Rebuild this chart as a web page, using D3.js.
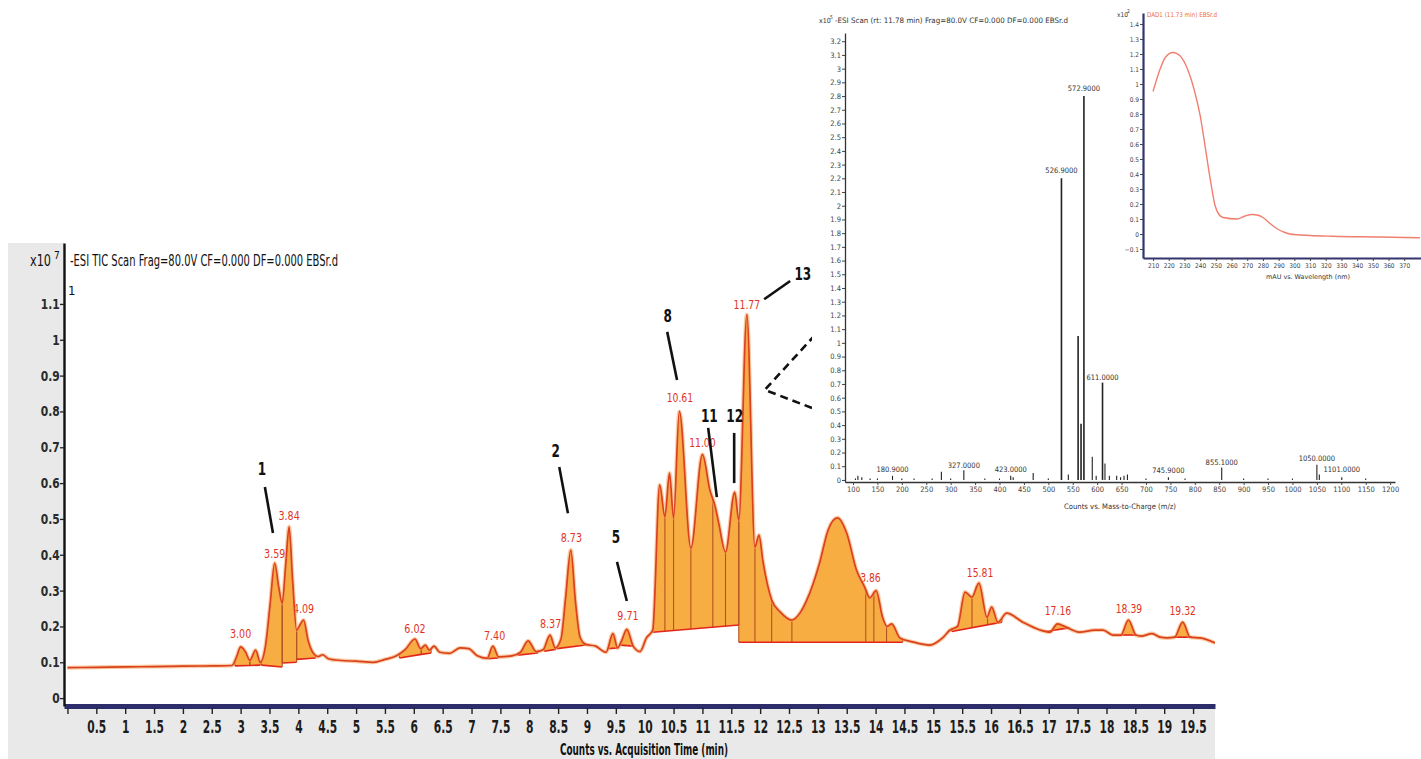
<!DOCTYPE html>
<html><head><meta charset="utf-8">
<script src="https://cdn.jsdelivr.net/npm/d3@7"></script>
<style>
body{margin:0;background:#fff}
svg{display:block}
</style>
</head><body>
<svg id="c" width="1421" height="759"></svg>
<script>
// ---------------- DATA ----------------
// Main TIC trace (time in min, counts x10^7)
const ticTime = [0.00,0.50,1.00,1.50,2.00,2.50,2.85,2.93,3.00,3.08,3.16,3.26,3.34,3.43,3.51,3.59,3.66,3.72,3.78,3.84,3.90,3.97,4.03,4.09,4.17,4.26,4.34,4.42,4.52,4.75,5.00,5.30,5.50,5.70,5.85,6.02,6.12,6.20,6.27,6.35,6.45,6.62,6.80,6.95,7.10,7.27,7.37,7.47,7.70,7.85,7.98,8.12,8.24,8.36,8.45,8.55,8.63,8.72,8.80,8.88,8.98,9.15,9.33,9.45,9.53,9.60,9.69,9.80,9.92,10.03,10.14,10.26,10.35,10.43,10.50,10.60,10.80,11.00,11.13,11.22,11.28,11.40,11.56,11.63,11.77,11.91,11.98,12.05,12.20,12.35,12.55,12.70,12.81,12.92,13.03,13.18,13.34,13.50,13.67,13.81,13.90,14.01,14.12,14.20,14.28,14.42,14.64,14.94,15.16,15.29,15.42,15.55,15.67,15.79,15.93,16.01,16.12,16.27,16.55,16.85,17.02,17.15,17.30,17.54,17.80,17.94,18.11,18.25,18.38,18.51,18.60,18.79,18.93,19.05,19.18,19.32,19.45,19.62,19.88];
const ticCounts = [0.085,0.086,0.087,0.088,0.089,0.090,0.091,0.115,0.143,0.130,0.106,0.134,0.100,0.145,0.260,0.377,0.310,0.265,0.370,0.478,0.330,0.190,0.205,0.218,0.160,0.125,0.116,0.121,0.110,0.105,0.103,0.100,0.108,0.118,0.135,0.165,0.138,0.148,0.134,0.145,0.128,0.125,0.140,0.138,0.118,0.111,0.145,0.115,0.118,0.128,0.160,0.130,0.135,0.176,0.140,0.165,0.280,0.413,0.270,0.170,0.150,0.145,0.128,0.180,0.140,0.160,0.192,0.145,0.130,0.168,0.190,0.595,0.506,0.628,0.503,0.800,0.419,0.680,0.580,0.535,0.490,0.408,0.575,0.497,1.070,0.422,0.455,0.380,0.274,0.240,0.218,0.240,0.274,0.320,0.377,0.470,0.503,0.460,0.357,0.310,0.280,0.300,0.226,0.200,0.207,0.168,0.157,0.148,0.168,0.190,0.200,0.296,0.282,0.321,0.226,0.254,0.212,0.237,0.212,0.190,0.184,0.207,0.198,0.184,0.190,0.190,0.176,0.176,0.218,0.176,0.173,0.180,0.170,0.168,0.170,0.212,0.170,0.168,0.154];

// Integrated peak regions
const regionStart     = [2.90,3.16,3.36,3.72,3.97,5.75,6.13,7.29,7.80,8.26,8.48,9.37,9.58,10.14,11.63,15.32,16.95,18.24,19.17];
const regionEnd       = [3.16,3.34,3.72,3.97,4.30,6.13,6.30,7.46,8.15,8.46,8.98,9.53,9.80,11.63,14.47,16.19,17.35,18.52,19.48];
const regionBaseStart = [0.090,0.091,0.092,0.098,0.108,0.112,0.122,0.110,0.120,0.131,0.138,0.138,0.148,0.184,0.156,0.186,0.186,0.176,0.170];
const regionBaseEnd   = [0.091,0.092,0.087,0.100,0.112,0.122,0.126,0.112,0.126,0.136,0.148,0.140,0.145,0.204,0.156,0.212,0.196,0.176,0.170];
const regionSplits    = [[],[],[],[],[],[],[],[],[],[],[],[],[],[10.35,10.50,10.80,11.18,11.40],[11.91,12.20,12.55,13.83,13.97,14.19],[15.67,15.94],[],[],[]];

// Peak retention-time labels
const peakLabels     = ["3.00","3.59","3.84","4.09","6.02","7.40","8.37","8.73","9.71","10.61","11.00","11.77","13.86","15.81","17.16","18.39","19.32"];
const peakLabelLevel = [0.168,0.391,0.497,0.237,0.181,0.162,0.195,0.436,0.218,0.826,0.700,1.086,0.324,0.338,0.232,0.237,0.232];

// Compound numbers and leader lines (data coordinates)
const annotText  = ["1","2","5","8","11","12","13"];
const annotTime  = [3.37,8.46,9.50,10.40,11.12,11.56,12.74];
const annotLevel = [0.623,0.673,0.433,1.049,0.770,0.770,1.166];
const leadT1 = [3.42,8.52,9.52,10.39,11.10,11.55,12.07];
const leadV1 = [0.589,0.645,0.380,1.022,0.754,0.740,1.113];
const leadT2 = [3.56,8.67,9.69,10.56,11.25,11.55,12.52];
const leadV2 = [0.461,0.516,0.271,0.888,0.561,0.600,1.164];
const dashT = [12.95,12.08,12.99];
const dashV = [1.013,0.860,0.804];

const xTickValues = [0,0.5,1,1.5,2,2.5,3,3.5,4,4.5,5,5.5,6,6.5,7,7.5,8,8.5,9,9.5,10,10.5,11,11.5,12,12.5,13,13.5,14,14.5,15,15.5,16,16.5,17,17.5,18,18.5,19,19.5];
const yTickValues = [0,0.1,0.2,0.3,0.4,0.5,0.6,0.7,0.8,0.9,1,1.1];

// Mass spectrum inset (m/z, counts x10^5)
const msMz    = [105,110,118,135,150,180.9,200,225,262,281,300,327,370,400,423,428,469,500,526.9,541,561,567,572.9,590,598,611,616,625,640,648,655,662,700,745.9,780,855.1,900,950,1000,1050,1055,1101,1150];
const msAbund = [0.01,0.03,0.02,0.01,0.01,0.03,0.01,0.01,0.01,0.06,0.01,0.07,0.01,0.01,0.03,0.02,0.05,0.01,2.20,0.04,1.05,0.41,2.80,0.17,0.03,0.71,0.12,0.03,0.03,0.02,0.03,0.04,0.01,0.02,0.01,0.09,0.01,0.01,0.01,0.11,0.04,0.02,0.01];
const msLabelText  = ["180.9000","327.0000","423.0000","526.9000","572.9000","611.0000","745.9000","855.1000","1050.0000","1101.0000"];
const msLabelMz    = [180.9,327,423,526.9,572.9,611,745.9,855.1,1050,1101];
const msLabelLevel = [0.06,0.09,0.06,2.24,2.84,0.73,0.05,0.11,0.14,0.06];
const msXTicks = [100,150,200,250,300,350,400,450,500,550,600,650,700,750,800,850,900,950,1000,1050,1100,1150,1200];
const msYTicks = d3.range(0,33).map(i=>i/10);

// UV spectrum inset (nm, mAU x10^2)
const uvWavelength = [210,214.5,218,222.7,227,232.3,236,240,242.5,244.4,247,249.5,252,254.6,263.5,268.6,273,277,280,284.5,289,294,297,310,324.6,354.6,380];
const uvAbs        = [0.95,1.10,1.18,1.21,1.19,1.09,0.97,0.79,0.63,0.50,0.33,0.19,0.13,0.11,0.10,0.12,0.13,0.125,0.11,0.07,0.035,0.01,0.0,-0.01,-0.015,-0.02,-0.025];
const uvXTicks = [210,220,230,240,250,260,270,280,290,300,310,320,330,340,350,360,370];
const uvYTicks = d3.range(-1,15).map(i=>i/10);

// ---------------- DRAW ----------------
const FONT = '"Liberation Sans Narrow","Arial Narrow","DejaVu Sans Condensed",sans-serif';
const svg = d3.select("#c");
const fmt = d3.format("~g");

// background panel
svg.append("rect").attr("x",8).attr("y",243).attr("width",1207).attr("height",516).attr("fill","#e9e9e9");
svg.append("rect").attr("x",64).attr("y",243).attr("width",1151).attr("height",463).attr("fill","#fff");

const x = d3.scaleLinear().domain([-0.06,19.88]).range([64,1215]);
const y = d3.scaleLinear().domain([-0.022,1.27]).range([706,243]);

svg.append("clipPath").attr("id","plotclip").append("rect").attr("x",64).attr("y",243).attr("width",1151).attr("height",463);

const gPlot = svg.append("g").attr("clip-path","url(#plotclip)");
const gLabels = gPlot.append("g");
const gFill = gPlot.append("g");
const gDiv = gPlot.append("g");
const gBase = gPlot.append("g");
const gTrace = gPlot.append("g");

const ticData = ticTime.map((t,i)=>[t,ticCounts[i]]);
const line = d3.line().x(d=>x(d[0])).y(d=>y(d[1])).curve(d3.curveMonotoneX);
gTrace.append("path").attr("d",line(ticData)).attr("fill","none")
  .attr("stroke","#f6a15a").attr("stroke-width",4).attr("stroke-opacity",0.55).attr("stroke-linejoin","round");
const tracePath = gTrace.append("path").attr("d",line(ticData)).attr("fill","none")
  .attr("stroke","#d9421c").attr("stroke-width",1.7).attr("stroke-linejoin","round");

// sample trace for lookup
const node = tracePath.node();
const L = node.getTotalLength();
const samples = [];
for (let s=0; s<=L; s+=0.5){ const p=node.getPointAtLength(s); samples.push([p.x,p.y]); }
samples.sort((a,b)=>a[0]-b[0]);
const bis = d3.bisector(d=>d[0]).left;
function yAtPx(px){
  const i = bis(samples,px);
  if (i<=0) return samples[0][1];
  if (i>=samples.length) return samples[samples.length-1][1];
  const a=samples[i-1], b=samples[i];
  const f=(px-a[0])/((b[0]-a[0])||1);
  return a[1]+f*(b[1]-a[1]);
}

// regions
regionStart.forEach((s,i)=>{
  const e = regionEnd[i];
  const bl = t => regionBaseStart[i]+(regionBaseEnd[i]-regionBaseStart[i])*(t-s)/(e-s);
  const xs=x(s), xe=x(e);
  const top=[];
  for(let px=xs; px<xe; px+=0.5){ const t=x.invert(px); top.push([px,Math.min(yAtPx(px),y(bl(t)))]); }
  top.push([xe,Math.min(yAtPx(xe),y(bl(e)))]);
  const poly = top.concat([[xe,y(bl(e))],[xs,y(bl(s))]]);
  gFill.append("path").attr("d",d3.line()(poly)+"Z").attr("fill","#f8ad42").attr("stroke","none");
  [s,...regionSplits[i],e].forEach(t=>{
    gDiv.append("line").attr("x1",x(t)).attr("x2",x(t))
      .attr("y1",y(bl(t))).attr("y2",Math.min(yAtPx(x(t)),y(bl(t))))
      .attr("stroke","#b4541f").attr("stroke-width",1.1);
  });
  gBase.append("line").attr("x1",xs).attr("x2",xe).attr("y1",y(bl(s))).attr("y2",y(bl(e)))
    .attr("stroke","#e3261b").attr("stroke-width",1.6);
});

// peak labels
peakLabels.forEach((lab,i)=>{
  gLabels.append("text").attr("x",x(+lab)).attr("y",y(peakLabelLevel[i]))
    .attr("text-anchor","middle").attr("font-family",FONT).attr("font-size",13)
    .attr("textLength",lab.length*5.3).attr("lengthAdjust","spacingAndGlyphs")
    .attr("fill","#e0341f").text(lab);
});

// axes
const gx = svg.append("g").attr("transform","translate(0,706)")
  .call(d3.axisBottom(x).tickValues(xTickValues).tickFormat(d=>d===0?"":fmt(d)).tickSize(5).tickSizeOuter(0));
gx.select(".domain").attr("stroke","#2d2d6b").attr("stroke-width",5);
gx.selectAll(".tick line").attr("stroke","#222").attr("stroke-width",1.4).attr("y1",2).attr("y2",8);
gx.selectAll(".tick text").attr("font-family",FONT).attr("font-size",17).attr("font-weight","bold")
  .attr("fill","#1c1c1c").attr("y",15).attr("transform","scale(0.7,1)");

const gy = svg.append("g").attr("transform","translate(64,0)")
  .call(d3.axisLeft(y).tickValues(yTickValues).tickFormat(fmt).tickSize(4).tickSizeOuter(0));
gy.select(".domain").attr("stroke","#111").attr("stroke-width",2.4);
gy.selectAll(".tick line").attr("stroke","#222").attr("stroke-width",1.3);
gy.selectAll(".tick text").attr("font-family",FONT).attr("font-size",14).attr("font-weight","bold")
  .attr("fill","#2a2a2a").attr("x",-5).attr("transform","scale(0.85,1)");

// titles
svg.append("text").attr("x",30).attr("y",266).attr("font-family",FONT).attr("font-size",15)
  .attr("textLength",21).attr("lengthAdjust","spacingAndGlyphs").attr("fill","#111").text("x10");
svg.append("text").attr("x",54).attr("y",259).attr("font-family",FONT).attr("font-size",10).attr("fill","#111").text("7");
svg.append("text").attr("x",70).attr("y",266).attr("font-family",FONT).attr("font-size",16)
  .attr("textLength",268).attr("lengthAdjust","spacingAndGlyphs").attr("fill","#111")
  .text("-ESI TIC Scan Frag=80.0V CF=0.000 DF=0.000 EBSr.d");
svg.append("text").attr("x",68).attr("y",295).attr("font-family",FONT).attr("font-size",13).attr("fill","#111").text("1");
svg.append("text").attr("x",644).attr("y",755).attr("text-anchor","middle").attr("font-family",FONT)
  .attr("font-size",15).attr("font-weight","bold").attr("textLength",168).attr("lengthAdjust","spacingAndGlyphs")
  .attr("fill","#111").text("Counts vs. Acquisition Time (min)");

// annotations
const gAnn = svg.append("g");
annotText.forEach((tx,i)=>{
  gAnn.append("line").attr("x1",x(leadT1[i])).attr("y1",y(leadV1[i])).attr("x2",x(leadT2[i])).attr("y2",y(leadV2[i]))
    .attr("stroke","#111").attr("stroke-width",2.6);
  gAnn.append("text").attr("x",x(annotTime[i])).attr("y",y(annotLevel[i])).attr("text-anchor","middle")
    .attr("font-family",FONT).attr("font-size",18).attr("font-weight","bold")
    .attr("textLength",tx.length*8.4).attr("lengthAdjust","spacingAndGlyphs").attr("fill","#111").text(tx);
});
gAnn.append("path").attr("d",d3.line().x((d,i)=>x(dashT[i])).y((d,i)=>y(dashV[i]))(dashT))
  .attr("fill","none").attr("stroke","#111").attr("stroke-width",2.6).attr("stroke-dasharray","8,5");

// ---------------- MS inset ----------------
const gMS = svg.append("g");
gMS.append("rect").attr("x",812).attr("y",6).attr("width",594).attr("height",508).attr("fill","#fff");
const mx = d3.scaleLinear().domain([83.6,1210]).range([845,1395]);
const my = d3.scaleLinear().domain([-0.015,3.26]).range([482,33]);
const INS = 7.5;
const gmx = gMS.append("g").attr("transform","translate(0,482)")
  .call(d3.axisBottom(mx).tickValues(msXTicks).tickFormat(fmt).tickSize(3).tickSizeOuter(0));
gmx.select(".domain").attr("stroke","#333").attr("stroke-width",1.3);
gmx.selectAll(".tick line").attr("stroke","#444");
gmx.selectAll(".tick text").attr("font-family",FONT).attr("font-size",INS).attr("fill","#444").attr("y",5);
const gmy = gMS.append("g").attr("transform","translate(845,0)")
  .call(d3.axisLeft(my).tickValues(msYTicks).tickFormat(fmt).tickSize(3).tickSizeOuter(0));
gmy.select(".domain").attr("stroke","#333").attr("stroke-width",1.3);
gmy.selectAll(".tick line").attr("stroke","#444");
gmy.selectAll(".tick text").attr("font-family",FONT).attr("font-size",INS).attr("fill","#444").attr("x",-4);
msMz.forEach((m,i)=>{
  gMS.append("line").attr("x1",mx(m)).attr("x2",mx(m)).attr("y1",my(0)).attr("y2",my(msAbund[i]))
    .attr("stroke","#222").attr("stroke-width",msAbund[i]>0.3?1.6:1.1);
});
msLabelText.forEach((t,i)=>{
  gMS.append("text").attr("x",mx(msLabelMz[i])).attr("y",my(msLabelLevel[i])).attr("text-anchor","middle")
    .attr("font-family",FONT).attr("font-size",INS).attr("fill","#333").text(t);
});
gMS.append("text").attr("x",819).attr("y",23).attr("font-family",FONT).attr("font-size",7).attr("fill","#333").text("x10");
gMS.append("text").attr("x",830).attr("y",19).attr("font-family",FONT).attr("font-size",5).attr("fill","#333").text("5");
gMS.append("text").attr("x",835).attr("y",23).attr("font-family",FONT).attr("font-size",7.5)
  .attr("textLength",233).attr("lengthAdjust","spacingAndGlyphs").attr("fill","#333")
  .text("-ESI Scan (rt: 11.78 min) Frag=80.0V CF=0.000 DF=0.000 EBSr.d");
gMS.append("text").attr("x",1120).attr("y",509).attr("text-anchor","middle").attr("font-family",FONT)
  .attr("font-size",7.5).attr("textLength",112).attr("lengthAdjust","spacingAndGlyphs").attr("fill","#333")
  .text("Counts vs. Mass-to-Charge (m/z)");

// ---------------- UV inset ----------------
const gUV = svg.append("g");
gUV.append("rect").attr("x",1110).attr("y",4).attr("width",311).attr("height",280).attr("fill","#fff");
const ux = d3.scaleLinear().domain([203.6,380.7]).range([1143,1421]);
const uy = d3.scaleLinear().domain([-0.16,1.473]).range([258,13]);
gUV.append("path").attr("d",d3.line().x((d,i)=>ux(uvWavelength[i])).y((d,i)=>uy(uvAbs[i])).curve(d3.curveMonotoneX)(uvWavelength))
  .attr("fill","none").attr("stroke","#f07f70").attr("stroke-width",1.4);
const gux = gUV.append("g").attr("transform","translate(0,258)")
  .call(d3.axisBottom(ux).tickValues(uvXTicks).tickFormat(fmt).tickSize(3).tickSizeOuter(0));
gux.select(".domain").attr("stroke","#34346f").attr("stroke-width",2.2);
gux.selectAll(".tick line").attr("stroke","#444");
gux.selectAll(".tick text").attr("font-family",FONT).attr("font-size",6.5).attr("fill","#444").attr("y",5);
const guy = gUV.append("g").attr("transform","translate(1143,0)")
  .call(d3.axisLeft(uy).tickValues(uvYTicks).tickFormat(fmt).tickSize(3).tickSizeOuter(0));
guy.select(".domain").attr("stroke","#34346f").attr("stroke-width",2.2);
guy.selectAll(".tick line").attr("stroke","#444");
guy.selectAll(".tick text").attr("font-family",FONT).attr("font-size",6.5).attr("fill","#444").attr("x",-4);
gUV.append("text").attr("x",1117).attr("y",17).attr("font-family",FONT).attr("font-size",6.5).attr("fill","#333").text("x10");
gUV.append("text").attr("x",1127).attr("y",13).attr("font-family",FONT).attr("font-size",5).attr("fill","#333").text("2");
gUV.append("text").attr("x",1147).attr("y",17).attr("font-family",FONT).attr("font-size",6.5)
  .attr("textLength",70).attr("lengthAdjust","spacingAndGlyphs").attr("fill","#ee6a3a").text("DAD1 (11.73 min) EBSr.d");
gUV.append("text").attr("x",1308).attr("y",279).attr("text-anchor","middle").attr("font-family",FONT)
  .attr("font-size",6.5).attr("textLength",84).attr("lengthAdjust","spacingAndGlyphs").attr("fill","#333")
  .text("mAU vs. Wavelength (nm)");
</script>
</body></html>
